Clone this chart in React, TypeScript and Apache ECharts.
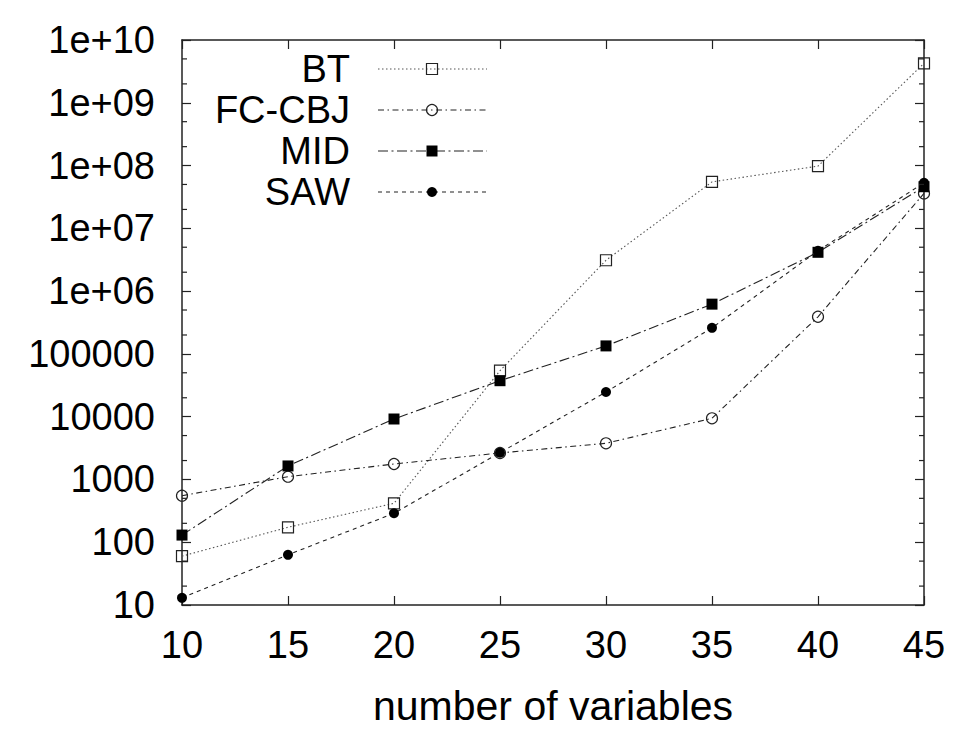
import React, { useEffect, useRef } from "react";
import * as echarts from "echarts";

const xValues = [10, 15, 20, 25, 30, 35, 40, 45];
const seriesNames = ["BT", "FC-CBJ", "MID", "SAW"];
const btValues = [60, 173, 417, 54000, 3.1e6, 5.5e7, 9.8e7, 4.25e9];
const fcCbjValues = [551, 1106, 1762, 2640, 3765, 9420, 3.9e5, 3.6e7];
const midValues = [130, 1640, 9180, 37400, 1.34e5, 6.2e5, 4.15e6, 4.6e7];
const sawValues = [13, 63, 289, 2670, 24700, 2.6e5, 4.4e6, 5.3e7];
const yTickLabels = ["10", "100", "1000", "10000", "100000", "1e+06", "1e+07", "1e+08", "1e+09", "1e+10"];
const xTickLabels = ["10", "15", "20", "25", "30", "35", "40", "45"];
const minorTickValues = [
  20, 50, 200, 500, 2000, 5000, 20000, 50000, 200000, 500000,
  2e6, 5e6, 2e7, 5e7, 2e8, 5e8, 2e9, 5e9,
];

const FONT = '"Liberation Sans", Arial, Helvetica, sans-serif';
const INK = "#222";

const styles = [
  { dash: [1.5, 2.5], color: "#555", width: 1.1, symbol: "rect", size: 11, filled: false },
  { dash: [6, 3.5, 1.5, 3.5], color: "#222", width: 1.1, symbol: "circle", size: 11, filled: false },
  { dash: [10, 3.5, 2, 3.5], color: "#222", width: 1.1, symbol: "rect", size: 11, filled: true },
  { dash: [4, 4], color: "#222", width: 1.1, symbol: "circle", size: 10, filled: true },
];
const allValues = [btValues, fcCbjValues, midValues, sawValues];
const legendRows = [69, 110, 151, 192];

export default function App() {
  const ref = useRef<HTMLDivElement>(null);
  useEffect(() => {
    document.body.style.margin = "0";
    if (!ref.current) return;
    const chart = echarts.init(ref.current, null, { renderer: "svg" });

    const lineSeries = allValues.map((vals, i) => {
      const s = styles[i];
      return {
        name: seriesNames[i],
        type: "line",
        data: xValues.map((x, j) => [x, vals[j]]),
        symbol: s.symbol,
        symbolSize: s.size,
        clip: false,
        z: 3 + i,
        lineStyle: { color: s.color, width: s.width, type: s.dash },
        itemStyle: {
          color: s.filled ? "#000" : "transparent",
          borderColor: "#222",
          borderWidth: s.filled ? 0 : 1.2,
        },
      };
    });

    const minorSeries = {
      type: "custom",
      silent: true,
      z: 10,
      data: minorTickValues.map((v) => [10, v]),
      encode: { x: 0, y: 1 },
      renderItem: (params: any, api: any) => {
        const v = api.value(1);
        const l = api.coord([10, v]);
        const r = api.coord([45, v]);
        return {
          type: "group",
          children: [
            { type: "line", shape: { x1: l[0], y1: l[1], x2: l[0] + 5, y2: l[1] }, style: { stroke: INK, lineWidth: 1.2 } },
            { type: "line", shape: { x1: r[0] - 5, y1: r[1], x2: r[0], y2: r[1] }, style: { stroke: INK, lineWidth: 1.2 } },
          ],
        };
      },
    };

    const legendGraphics: any[] = [];
    seriesNames.forEach((name, i) => {
      const y = legendRows[i];
      const s = styles[i];
      legendGraphics.push({
        type: "text",
        x: 350,
        y,
        style: { text: name, font: `38px ${FONT}`, fill: "#000", align: "right", verticalAlign: "middle" },
      });
      legendGraphics.push({
        type: "line",
        shape: { x1: 378, y1: y, x2: 487, y2: y },
        style: { stroke: s.color, lineWidth: s.width, lineDash: s.dash },
      });
      if (s.symbol === "rect") {
        legendGraphics.push({
          type: "rect",
          shape: { x: 432 - s.size / 2, y: y - s.size / 2, width: s.size, height: s.size },
          style: { fill: s.filled ? "#000" : "transparent", stroke: "#222", lineWidth: s.filled ? 0 : 1.2 },
        });
      } else {
        legendGraphics.push({
          type: "circle",
          shape: { cx: 432, cy: y, r: s.size / 2 },
          style: { fill: s.filled ? "#000" : "transparent", stroke: "#222", lineWidth: s.filled ? 0 : 1.2 },
        });
      }
    });

    const axisLine = { show: true, lineStyle: { color: INK, width: 1.5 } };
    const axisTick = { show: true, inside: true, length: 9, lineStyle: { color: INK, width: 1.2 } };

    chart.setOption({
      animation: false,
      backgroundColor: "#fff",
      grid: { left: 182, right: 35, top: 40, bottom: 128, containLabel: false, outerBoundsMode: "none" },
      xAxis: [
        {
          type: "value",
          min: 10,
          max: 45,
          interval: 5,
          position: "bottom",
          axisLine,
          axisTick,
          splitLine: { show: false },
          axisLabel: {
            margin: 21,
            color: "#000",
            fontFamily: FONT,
            fontSize: 38,
            formatter: (v: number) => xTickLabels[Math.round((v - 10) / 5)] ?? "",
          },
          name: "number of variables",
          nameLocation: "middle",
          nameGap: 80,
          nameTextStyle: { color: "#000", fontFamily: FONT, fontSize: 41 },
        },
        {
          type: "value",
          min: 10,
          max: 45,
          interval: 5,
          position: "top",
          axisLine,
          axisTick,
          splitLine: { show: false },
          axisLabel: { show: false },
        },
      ],
      yAxis: [
        {
          type: "log",
          logBase: 10,
          min: 10,
          max: 1e10,
          splitNumber: 9,
          position: "left",
          axisLine,
          axisTick,
          splitLine: { show: false },
          axisLabel: {
            margin: 27,
            color: "#000",
            fontFamily: FONT,
            fontSize: 38,
            formatter: (v: number) => yTickLabels[Math.round(Math.log10(v)) - 1] ?? "",
          },
        },
        {
          type: "log",
          logBase: 10,
          min: 10,
          max: 1e10,
          splitNumber: 9,
          position: "right",
          axisLine,
          axisTick,
          splitLine: { show: false },
          axisLabel: { show: false },
        },
      ],
      graphic: legendGraphics,
      series: [...lineSeries, minorSeries],
    });

    return () => chart.dispose();
  }, []);
  return <div ref={ref} style={{ width: 959, height: 733 }} />;
}
